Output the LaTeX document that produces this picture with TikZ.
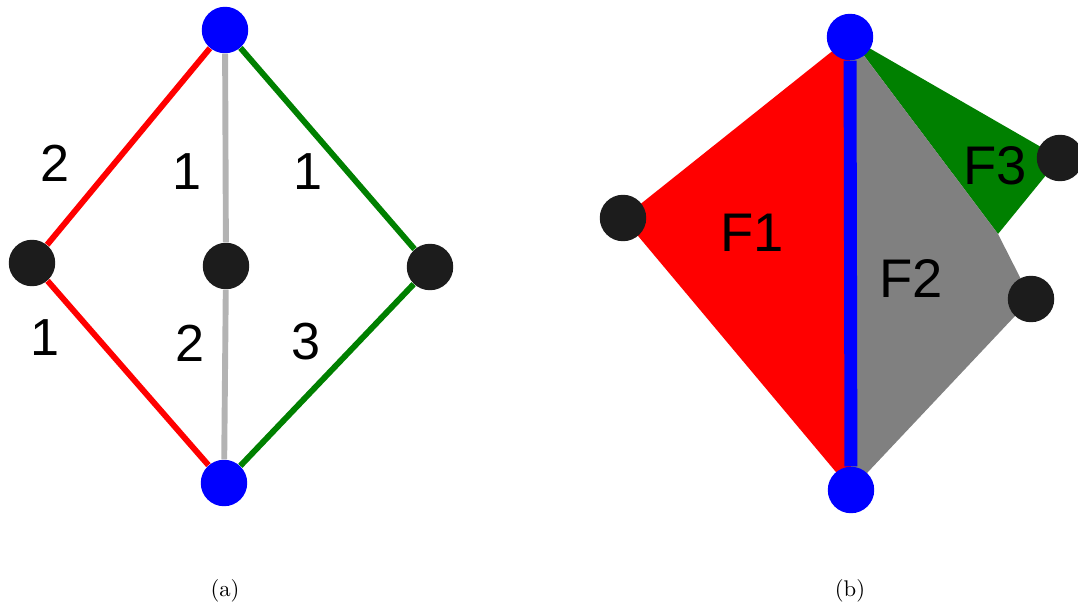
\documentclass[tikz,border=0pt]{standalone}
\usepackage{fontspec}
\newfontfamily\labelfont{Liberation Sans}
\usetikzlibrary{positioning}
\definecolor{vblue}{HTML}{0000FF}
\definecolor{vblack}{HTML}{1C1C1C}
\definecolor{ered}{HTML}{FF0000}
\definecolor{egreen}{HTML}{008000}
\definecolor{egray}{HTML}{B3B3B3}
\definecolor{fgray}{HTML}{808080}

\begin{document}
\begin{tikzpicture}[x=0.0155cm,y=-0.0155cm,
    vert/.style={circle,inner sep=0pt,minimum size=20.5pt},
    bvert/.style={vert,fill=vblue},
    kvert/.style={vert,fill=vblack},
    edge/.style={line width=2.6pt},
    lbl/.style={font=\labelfont\fontsize{23}{23}\selectfont,inner sep=0pt}]
  \useasboundingbox (0,0) rectangle (1078,602);

  % (a) the graph with edge weights
  \node[bvert] (top) at (225,30) {};
  \node[bvert] (bot) at (224,483) {};
  \node[kvert] (left) at (32,263) {};
  \node[kvert] (mid) at (226,266) {};
  \node[kvert] (right) at (430,267) {};
  \draw[edge,ered] (top) -- (left) -- (bot);
  \draw[edge,egray] (top) -- (mid) -- (bot);
  \draw[edge,egreen] (top) -- (right) -- (bot);
  \node[lbl] (wa) at (55,163) {2};
  \node[lbl] (wb) at (187,172) {1};
  \node[lbl] (wc) at (308,172) {1};
  \node[lbl] (wd) at (45,338) {1};
  \node[lbl] (we) at (190,343) {2};
  \node[lbl] (wf) at (306,342) {3};
  \node (capa) at (225,591) {(a)};

  % (b) the faces
  \coordinate (ptop) at (850,37);
  \coordinate (pbot) at (851,490);
  \coordinate (pleft) at (623,218);
  \coordinate (pup) at (1060,158);
  \coordinate (plow) at (1031,299);
  \coordinate (pkink) at (998,234);
  \fill[ered] (ptop) -- (pleft) -- (pbot) -- cycle;
  \fill[egreen] (ptop) -- (pup) -- (pkink) -- cycle;
  \fill[fgray] (ptop) -- (pkink) -- (plow) -- (pbot) -- cycle;
  \node[bvert] (ftop) at (ptop) {};
  \node[bvert] (fbot) at (pbot) {};
  \node[kvert] (fleft) at (pleft) {};
  \node[kvert] (fup) at (pup) {};
  \node[kvert] (flow) at (plow) {};
  \draw[vblue,line width=5.7pt] (ftop) -- (fbot);
  \node[lbl,font=\labelfont\fontsize{24}{24}\selectfont] (fa) at (752,233) {F1};
  \node[lbl,font=\labelfont\fontsize{24}{24}\selectfont] (fb) at (911,279) {F2};
  \node[lbl,font=\labelfont\fontsize{24}{24}\selectfont] (fc) at (995,166) {F3};
  \node (capb) at (850,591) {(b)};
\end{tikzpicture}
\end{document}
